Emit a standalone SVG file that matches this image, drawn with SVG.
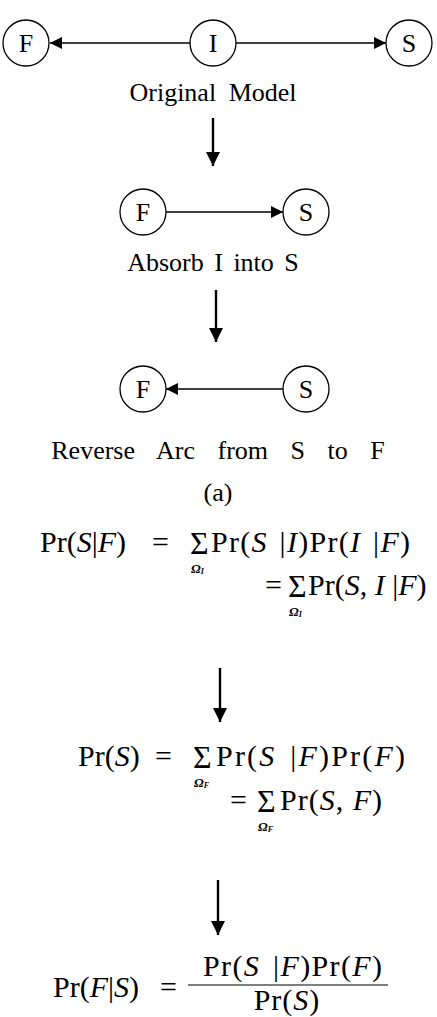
<svg xmlns="http://www.w3.org/2000/svg" width="437" height="1017" viewBox="0 0 437 1017">
<style>
.node circle{fill:#fff;stroke:#000;stroke-width:1.3}
.node text,.lbl{font-family:"Liberation Serif",serif;fill:#000}
.node text{font-size:26px;text-anchor:middle;dominant-baseline:central}
.lbl{font-size:26px;text-anchor:middle}
.eq{font-family:"Liberation Serif",serif;font-size:30px;fill:#000}
.sig{font-family:"Liberation Serif",serif;font-size:32px;fill:#000}
.i{font-style:italic}
.sub{font-family:"Liberation Serif",serif;font-size:13px;font-style:italic;font-weight:bold}
.edge{stroke:#000;stroke-width:1.4;fill:none}
.down{stroke:#000;stroke-width:2.4;fill:none}
</style>
<defs>
<marker id="ah" viewBox="0 0 10 10" refX="10" refY="5" markerWidth="16" markerHeight="12" markerUnits="userSpaceOnUse" orient="auto"><path d="M0,0 L10,5 L0,10 z" fill="#000"/></marker>
<marker id="dh" viewBox="0 0 10 10" refX="10" refY="5" markerWidth="18" markerHeight="14" markerUnits="userSpaceOnUse" orient="auto"><path d="M0,0 L10,5 L0,10 z" fill="#000"/></marker>
</defs>
<g id="connectors">
<line class="edge" x1="190" y1="43" x2="50" y2="43" marker-end="url(#ah)"/>
<line class="edge" x1="236" y1="43" x2="386" y2="43" marker-end="url(#ah)"/>
<line class="down" x1="213" y1="118" x2="213" y2="166" marker-end="url(#dh)"/>
<line class="edge" x1="166" y1="212" x2="283" y2="212" marker-end="url(#ah)"/>
<line class="down" x1="216" y1="290" x2="216" y2="342" marker-end="url(#dh)"/>
<line class="edge" x1="283" y1="389" x2="166" y2="389" marker-end="url(#ah)"/>
<line class="down" x1="220" y1="668" x2="220" y2="722" marker-end="url(#dh)"/>
<line class="down" x1="218" y1="880" x2="218" y2="935" marker-end="url(#dh)"/>
</g>
<g id="n1F" class="node"><circle cx="26" cy="43" r="23"/><text x="26" y="43">F</text></g>
<g id="n1I" class="node"><circle cx="213" cy="43" r="23"/><text x="213" y="43">I</text></g>
<g id="n1S" class="node"><circle cx="409" cy="43" r="23"/><text x="409" y="43">S</text></g>
<text class="lbl" x="213" y="101" word-spacing="6">Original Model</text>
<g id="n2F" class="node"><circle cx="143" cy="212" r="23"/><text x="143" y="212">F</text></g>
<g id="n2S" class="node"><circle cx="306" cy="212" r="23"/><text x="306" y="212">S</text></g>
<text class="lbl" x="213" y="271" word-spacing="4">Absorb I into S</text>
<g id="n3F" class="node"><circle cx="143" cy="389" r="23"/><text x="143" y="389">F</text></g>
<g id="n3S" class="node"><circle cx="306" cy="389" r="23"/><text x="306" y="389">S</text></g>
<text class="lbl" x="218" y="459" word-spacing="16">Reverse Arc from S to F</text>
<text class="lbl" x="218" y="501">(a)</text>
<g id="eq1">
<text class="eq" x="40" y="552">Pr(<tspan class="i">S</tspan>|<tspan class="i">F</tspan>)</text>
<text class="eq" x="152" y="552">=</text>
<text class="sig" x="190" y="554">Σ</text>
<text class="sub" x="191" y="573">Ω<tspan font-size="8" dy="1">I</tspan></text>
<text class="eq" x="211" y="552" word-spacing="3" textLength="199" lengthAdjust="spacing">Pr(<tspan class="i">S</tspan> |<tspan class="i">I</tspan>)Pr(<tspan class="i">I</tspan> |<tspan class="i">F</tspan>)</text>
<text class="eq" x="265" y="595">=</text>
<text class="sig" x="288" y="597">Σ</text>
<text class="sub" x="289" y="616">Ω<tspan font-size="8" dy="1">I</tspan></text>
<text class="eq" x="308" y="595" font-size="27">Pr(<tspan class="i">S</tspan>, <tspan class="i">I</tspan> |<tspan class="i">F</tspan>)</text>
</g>
<g id="eq2">
<text class="eq" x="78" y="766">Pr(<tspan class="i">S</tspan>)</text>
<text class="eq" x="155" y="766">=</text>
<text class="sig" x="193" y="768">Σ</text>
<text class="sub" x="194" y="787">Ω<tspan font-size="8" dy="1">F</tspan></text>
<text class="eq" x="216" y="766" word-spacing="4" textLength="189" lengthAdjust="spacing">Pr(<tspan class="i">S</tspan> |<tspan class="i">F</tspan>)Pr(<tspan class="i">F</tspan>)</text>
<text class="eq" x="230" y="810">=</text>
<text class="sig" x="257" y="812">Σ</text>
<text class="sub" x="258" y="831">Ω<tspan font-size="8" dy="1">F</tspan></text>
<text class="eq" x="280" y="810" textLength="102" lengthAdjust="spacing">Pr(<tspan class="i">S</tspan>, <tspan class="i">F</tspan>)</text>
</g>
<g id="eq3">
<text class="eq" x="53" y="997">Pr(<tspan class="i">F</tspan>|<tspan class="i">S</tspan>)</text>
<text class="eq" x="160" y="997">=</text>
<line x1="188" y1="985" x2="388" y2="985" stroke="#000" stroke-width="1.2"/>
<text class="eq" x="203" y="976" word-spacing="4" textLength="179" lengthAdjust="spacing">Pr(<tspan class="i">S</tspan> |<tspan class="i">F</tspan>)Pr(<tspan class="i">F</tspan>)</text>
<text class="eq" x="287" y="1010" text-anchor="middle" letter-spacing="1">Pr(<tspan class="i">S</tspan>)</text>
</g>
</svg>
